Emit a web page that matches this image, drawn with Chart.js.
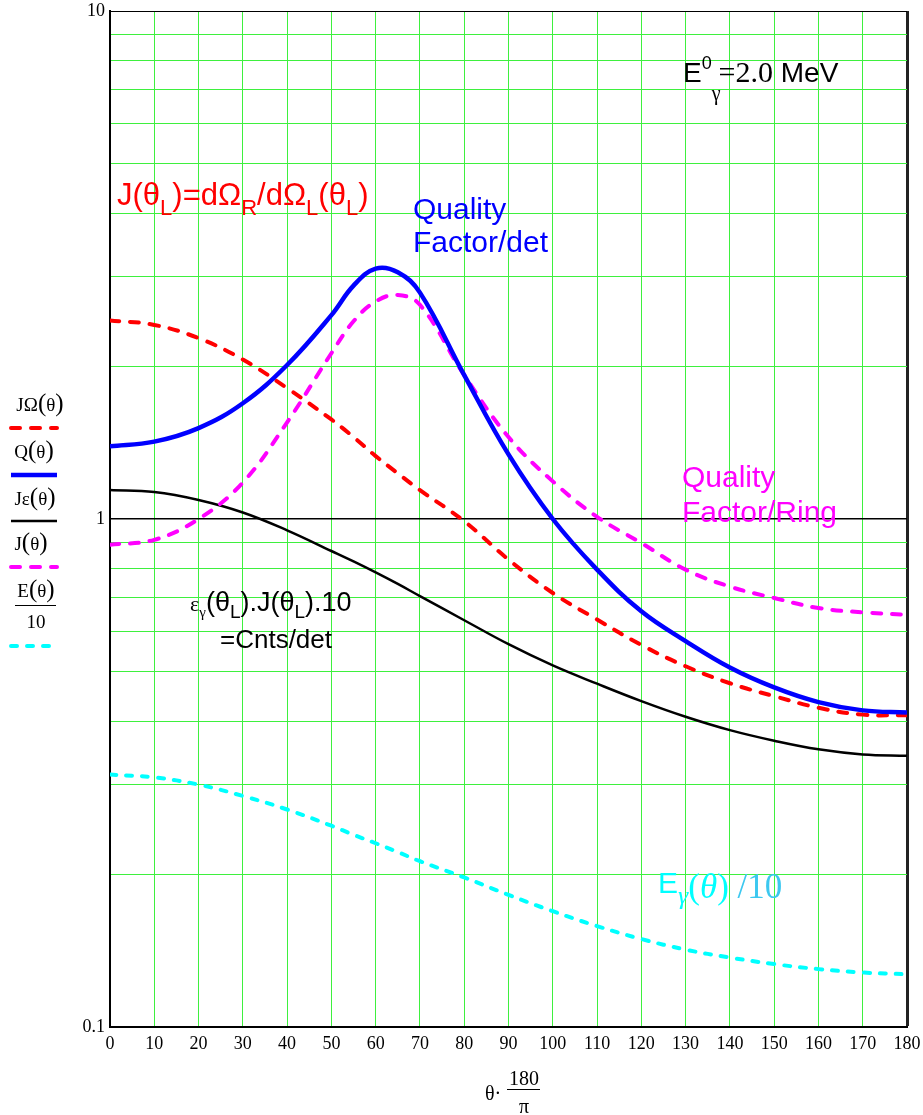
<!DOCTYPE html>
<html>
<head>
<meta charset="utf-8">
<script src="https://cdn.jsdelivr.net/npm/chart.js@4.4.0/dist/chart.umd.min.js"></script>
<style>
  body { margin: 0; background: #fff; }
  #wrap { position: relative; width: 923px; height: 1115px; overflow: hidden; }
  #wrap canvas { position: absolute; left: 0; top: 0; }
  .t { position: absolute; white-space: nowrap; line-height: 1; }
  .t span { line-height: 0; }
  .sans { font-family: "Liberation Sans", Arial, sans-serif; }
  .serif { font-family: "Liberation Serif", "Times New Roman", serif; }
  .c { transform: translateX(-50%); }
  .bar { position: absolute; height: 0; border-top: 1.5px solid #000; }
</style>
</head>
<body>
<div id="wrap">
  <canvas id="plot" width="923" height="1115"></canvas>

  <!-- legend names on the left -->
  <div class="t serif c" style="left:40px; top:395px; font-size:19px;">J&Omega;<span style="font-size:25px">(</span>&theta;<span style="font-size:25px">)</span></div>
  <div class="t serif c" style="left:34px; top:442px; font-size:19px;">Q<span style="font-size:25px">(</span>&theta;<span style="font-size:25px">)</span></div>
  <div class="t serif c" style="left:35px; top:489px; font-size:19px;">J&epsilon;<span style="font-size:25px">(</span>&theta;<span style="font-size:25px">)</span></div>
  <div class="t serif c" style="left:31px; top:534px; font-size:19px;">J<span style="font-size:25px">(</span>&theta;<span style="font-size:25px">)</span></div>
  <div class="t serif c" style="left:36px; top:581px; font-size:19px;">E<span style="font-size:25px">(</span>&theta;<span style="font-size:25px">)</span></div>
  <div class="bar" style="left:15px; width:41px; top:605px;"></div>
  <div class="t serif c" style="left:36px; top:612px; font-size:19px;">10</div>

  <!-- annotations -->
  <div class="t sans" style="left:683px; top:59px; font-size:28px; color:#000;">E<span style="font-size:18px; vertical-align:13px">0</span><span class="serif" style="font-size:20px; vertical-align:-18px">&gamma;</span><span class="serif" style="font-size:30px; margin-left:-2px">=2.0</span> MeV</div>

  <div class="t sans" style="left:117px; top:179px; font-size:31px; color:#ff0000;">J(&theta;<span style="font-size:22px; vertical-align:-10px">L</span>)=d&Omega;<span style="font-size:22px; vertical-align:-10px">R</span>/d&Omega;<span style="font-size:22px; vertical-align:-10px">L</span>(&theta;<span style="font-size:22px; vertical-align:-10px">L</span>)</div>

  <div class="t sans" style="left:413px; top:194px; font-size:30px; color:#0000ff;">Quality</div>
  <div class="t sans" style="left:413px; top:227px; font-size:30px; color:#0000ff;">Factor/det</div>

  <div class="t sans" style="left:682px; top:462px; font-size:30px; color:#ff00ff;">Quality</div>
  <div class="t sans" style="left:682px; top:497px; font-size:30px; color:#ff00ff;">Factor/Ring</div>

  <div class="t sans" style="left:190px; top:589px; font-size:27px; color:#000;"><span class="serif" style="font-size:22px">&epsilon;</span><span class="serif" style="font-size:15px; vertical-align:-6px">&gamma;</span>(&theta;<span style="font-size:19px; vertical-align:-7px">L</span>).J(&theta;<span style="font-size:19px; vertical-align:-7px">L</span>).10</div>
  <div class="t sans" style="left:220px; top:626px; font-size:26px; color:#000;">=Cnts/det</div>

  <div class="t sans" style="left:658px; top:868px; font-size:30px; color:#00ffff;">E<span class="serif" style="font-size:26px; font-style:italic; vertical-align:-11px">&gamma;</span><span class="serif" style="font-size:35px; vertical-align:-5px">(<i>&theta;</i>) <span style="color:#3cc8f0">/10</span></span></div>

  <!-- x axis title: theta * 180 / pi -->
  <div class="t serif" style="left:485px; top:1083px; font-size:20px;">&theta;&middot;</div>
  <div class="t serif" style="left:509px; top:1068px; font-size:20px;">180</div>
  <div class="bar" style="left:507px; width:33px; top:1089px;"></div>
  <div class="t serif" style="left:519px; top:1096px; font-size:20px;">&pi;</div>
</div>

<script>
// === DATA ===
const theta = [0, 10, 20, 30, 40, 50, 55, 60, 65, 70, 80, 90, 100, 110, 120, 130, 140, 150, 160, 170, 180];

// J(theta) * dOmega  (red dashed)
const jOmega = [2.46, 2.41, 2.27, 2.06, 1.81, 1.57, 1.45, 1.33, 1.23, 1.14, 0.99, 0.832, 0.715, 0.634, 0.565, 0.513, 0.475, 0.448, 0.425, 0.412, 0.411];
// Q(theta) quality factor per detector (blue solid)
const qFactor = [1.39, 1.42, 1.51, 1.69, 2.01, 2.52, 2.88, 3.11, 3.06, 2.79, 1.92, 1.34, 1.00, 0.795, 0.658, 0.575, 0.51, 0.466, 0.436, 0.420, 0.416];
// J(theta) * efficiency (black solid)
const jEps = [1.14, 1.13, 1.09, 1.03, 0.95, 0.865, 0.825, 0.785, 0.745, 0.705, 0.632, 0.567, 0.515, 0.474, 0.438, 0.408, 0.384, 0.366, 0.352, 0.344, 0.342];
// J(theta) quality factor per ring (magenta dashed)
const jRing = [0.89, 0.91, 1.00, 1.18, 1.55, 2.12, 2.45, 2.68, 2.76, 2.64, 1.92, 1.45, 1.186, 1.01, 0.897, 0.795, 0.736, 0.699, 0.668, 0.655, 0.648];
// E(theta)/10 (cyan dashed)
const eTenth = [0.314, 0.310, 0.300, 0.285, 0.268, 0.249, 0.239, 0.230, 0.221, 0.212, 0.197, 0.182, 0.169, 0.158, 0.149, 0.142, 0.137, 0.133, 0.130, 0.128, 0.127];

const yGrid = [0.1, 0.2, 0.3, 0.4, 0.5, 0.6, 0.7, 0.8, 0.9, 1, 2, 3, 4, 5, 6, 7, 8, 9, 10];
const yLabels = [0.1, 1, 10];

const GREEN = "#3ef03e";

function pts(values) {
    return values.map((v, i) => ({ x: theta[i], y: v }));
}

function series(values, color, width, dash) {
    return {
        data: pts(values),
        borderColor: color,
        borderWidth: width,
        borderDash: dash,
        borderCapStyle: dash.length ? "round" : "butt",
        pointRadius: 0,
        tension: 0.4,
        fill: false
    };
}

const datasets = [
    series(qFactor, "#0000ff", 4.5, []),
    series(jOmega, "#ff0000", 4, [9, 11]),
    series(jRing, "#ff00ff", 4, [9, 11]),
    series(jEps, "#000000", 2.5, []),
    series(eTenth, "#00ffff", 4, [6, 10])
];

// line samples under the names on the left, drawn with each dataset's own style
const swatchRows = [
    { ds: 1, y: 428 },
    { ds: 0, y: 475 },
    { ds: 3, y: 521 },
    { ds: 2, y: 567 },
    { ds: 4, y: 646 }
];

const swatchPlugin = {
    id: "swatches",
    afterDraw(chart) {
        const ctx = chart.ctx;
        swatchRows.forEach(row => {
            const ds = chart.data.datasets[row.ds];
            ctx.save();
            ctx.strokeStyle = ds.borderColor;
            ctx.lineWidth = ds.borderWidth;
            ctx.setLineDash(ds.borderDash);
            ctx.lineCap = ds.borderCapStyle;
            ctx.beginPath();
            ctx.moveTo(11, row.y);
            ctx.lineTo(57, row.y);
            ctx.stroke();
            ctx.restore();
        });
    }
};

new Chart(document.getElementById("plot"), {
    type: "line",
    data: { datasets },
    plugins: [swatchPlugin],
    options: {
        responsive: false,
        animation: false,
        layout: { padding: { top: 11, right: 16, left: 0, bottom: 0 } },
        plugins: { legend: { display: false }, tooltip: { enabled: false } },
        scales: {
            x: {
                type: "linear",
                min: 0,
                max: 180,
                // fixed height, no extra room for the end labels
                afterFit: s => {
                    s.height = 88;
                    s.paddingLeft = 0;
                    s.paddingRight = 0;
                },
                ticks: {
                    stepSize: 10,
                    autoSkip: false,
                    maxRotation: 0,
                    padding: 6,
                    color: "#000",
                    font: { family: "'Liberation Serif', serif", size: 18 }
                },
                grid: {
                    drawTicks: false,
                    color: c => c.tick && c.tick.value === 180 ? "#222" : GREEN,
                    lineWidth: c => c.tick && c.tick.value === 180 ? 3 : 1
                },
                border: { display: true, color: "#000", width: 2 }
            },
            y: {
                type: "logarithmic",
                min: 0.1,
                max: 10,
                afterFit: s => {
                    s.width = 110;
                    s.paddingTop = 0;
                    s.paddingBottom = 0;
                },
                afterBuildTicks: s => { s.ticks = yGrid.map(v => ({ value: v })); },
                ticks: {
                    autoSkip: false,
                    padding: 5,
                    color: "#000",
                    font: { family: "'Liberation Serif', serif", size: 18 },
                    callback: v => yLabels.includes(v) ? String(v) : ""
                },
                grid: {
                    drawTicks: false,
                    color: c => c.tick && (c.tick.value === 1 || c.tick.value === 10) ? "#000" : GREEN,
                    lineWidth: c => c.tick && c.tick.value === 1 ? 1.5 : 1
                },
                border: { display: true, color: "#000", width: 2 }
            }
        }
    }
});
</script>
</body>
</html>
